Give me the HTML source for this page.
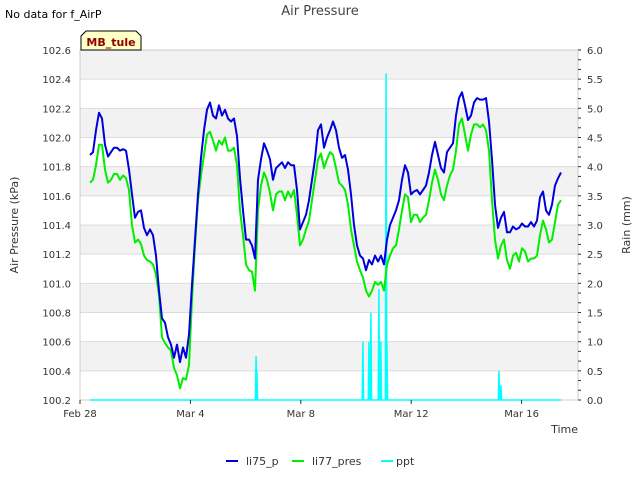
<!DOCTYPE html>
<html><head><meta charset="utf-8"><style>
body{margin:0;background:#fff;font-family:"Liberation Sans","DejaVu Sans",sans-serif}
svg text{font-family:"DejaVu Sans","Liberation Sans",sans-serif}
</style></head><body>
<svg id="chart" width="640" height="480" xmlns="http://www.w3.org/2000/svg">
<text x="5" y="18" font-size="11" fill="#000">No data for f_AirP</text>
<text x="320" y="15" font-size="13" fill="#444" text-anchor="middle">Air Pressure</text>
<g id="bands"></g>
<g id="grid"></g>
<rect x="80" y="50" width="498" height="350" fill="none" stroke="#ccc"/>
<g id="series"></g>
<g id="axes"></g>
<text transform="translate(18,225) rotate(-90)" font-size="11" fill="#333" text-anchor="middle">Air Pressure (kPa)</text>
<text transform="translate(630,225) rotate(-90)" font-size="11" fill="#333" text-anchor="middle">Rain (mm)</text>
<text x="578" y="433" font-size="11" fill="#333" text-anchor="end">Time</text>
<g>
<path d="M81,50 L81,36 L86,31 L136,31 L141,36 L141,50 Z" fill="#ffffc8" stroke="#000" stroke-width="1"/>
<text x="111" y="46" font-size="11" font-weight="bold" fill="#8b0000" text-anchor="middle">MB_tule</text>
</g>
<g>
<line x1="226" y1="461" x2="238" y2="461" stroke="#0000dd" stroke-width="2"/>
<text x="246" y="465" font-size="11" fill="#333">li75_p</text>
<line x1="292" y1="461" x2="304" y2="461" stroke="#00ee00" stroke-width="2"/>
<text x="312" y="465" font-size="11" fill="#333">li77_pres</text>
<line x1="381" y1="461" x2="393" y2="461" stroke="#00ffff" stroke-width="2"/>
<text x="396" y="465" font-size="11" fill="#333">ppt</text>
</g>
</svg>
<script>
const xTickLabels=["Feb 28","Mar 4","Mar 8","Mar 12","Mar 16"];
const xTickDays=[0,4,8,12,16];
const yTickLabels=["100.2","100.4","100.6","100.8","101.0","101.2","101.4","101.6","101.8","102.0","102.2","102.4","102.6"];
const y2TickLabels=["0.0","0.5","1.0","1.5","2.0","2.5","3.0","3.5","4.0","4.5","5.0","5.5","6.0"];
const startDay=0.362;
const stepDay=0.1087;
const li75=[101.88,101.90,102.05,102.17,102.13,101.95,101.87,101.90,101.93,101.93,101.91,101.92,101.91,101.78,101.61,101.45,101.49,101.50,101.38,101.33,101.37,101.33,101.19,100.95,100.76,100.73,100.63,100.58,100.49,100.58,100.46,100.56,100.49,100.65,100.99,101.30,101.61,101.86,102.05,102.19,102.24,102.15,102.13,102.22,102.15,102.19,102.13,102.11,102.13,102.01,101.72,101.50,101.30,101.30,101.26,101.17,101.71,101.85,101.96,101.91,101.85,101.71,101.79,101.81,101.83,101.79,101.83,101.81,101.81,101.64,101.37,101.42,101.47,101.57,101.71,101.85,102.05,102.09,101.93,102.00,102.05,102.11,102.05,101.93,101.86,101.88,101.78,101.61,101.40,101.26,101.19,101.17,101.09,101.16,101.13,101.19,101.15,101.19,101.13,101.30,101.40,101.45,101.50,101.57,101.71,101.81,101.76,101.61,101.63,101.64,101.61,101.64,101.67,101.76,101.88,101.97,101.88,101.79,101.76,101.90,101.93,101.96,102.15,102.27,102.31,102.22,102.12,102.15,102.24,102.27,102.26,102.26,102.27,102.11,101.85,101.54,101.38,101.45,101.49,101.35,101.35,101.39,101.37,101.38,101.41,101.39,101.39,101.42,101.39,101.43,101.59,101.63,101.50,101.47,101.54,101.67,101.72,101.76];
const li77=[101.69,101.71,101.81,101.95,101.95,101.78,101.69,101.71,101.75,101.75,101.71,101.74,101.72,101.64,101.40,101.28,101.30,101.27,101.19,101.16,101.15,101.13,101.06,100.92,100.63,100.59,100.56,100.54,100.42,100.37,100.28,100.35,100.34,100.44,100.89,101.26,101.57,101.74,101.88,102.02,102.04,101.98,101.91,101.98,101.95,102.00,101.91,101.91,101.93,101.81,101.50,101.33,101.13,101.09,101.08,100.95,101.50,101.67,101.76,101.71,101.62,101.50,101.61,101.63,101.63,101.57,101.63,101.59,101.64,101.47,101.26,101.30,101.37,101.43,101.57,101.71,101.85,101.89,101.79,101.85,101.90,101.88,101.79,101.69,101.67,101.64,101.54,101.37,101.26,101.15,101.09,101.04,100.95,100.91,100.95,101.01,100.99,101.01,100.95,101.13,101.19,101.24,101.26,101.37,101.50,101.61,101.59,101.42,101.47,101.47,101.42,101.45,101.47,101.57,101.69,101.78,101.71,101.61,101.57,101.67,101.74,101.78,101.91,102.09,102.13,102.02,101.91,102.02,102.09,102.09,102.07,102.09,102.05,101.91,101.57,101.30,101.17,101.26,101.30,101.16,101.10,101.19,101.21,101.15,101.24,101.22,101.15,101.17,101.17,101.19,101.33,101.43,101.37,101.28,101.30,101.42,101.54,101.57];
const pptDays=[6.38,6.41,10.25,10.47,10.54,10.83,10.90,11.09,11.12,15.18,15.25];
const pptValues=[0.75,0.5,1.0,1.0,1.5,1.9,1.0,5.6,1.0,0.5,0.25];

const NS="http://www.w3.org/2000/svg";
const X0=80,X1=578,Y0=400,Y1=50;
const xDay=d=>X0+d*27.6;
const yP=v=>Y0-(v-100.2)/(2.4)*(Y0-Y1);
const yR=v=>Y0-v/6*(Y0-Y1);
function mk(tag,attrs,parent){const e=document.createElementNS(NS,tag);for(const k in attrs)e.setAttribute(k,attrs[k]);parent.appendChild(e);return e;}
const bands=document.getElementById('bands'),grid=document.getElementById('grid'),axes=document.getElementById('axes'),series=document.getElementById('series');
yTickLabels.forEach((lab,i)=>{
  const v=parseFloat(lab);const y=yP(v);
  if(i<yTickLabels.length-1 && (yTickLabels.length-2-i)%2===0){
    const r=mk('rect',{x:X0,y:yP(parseFloat(yTickLabels[i+1])),width:X1-X0,height:y-yP(parseFloat(yTickLabels[i+1])),fill:'#f2f2f2'},bands);
    
    
  }
  const l=mk('line',{x1:X0,x2:X1,y1:y,y2:y,stroke:'#dcdcdc'},grid);
  
  
  const t=mk('text',{x:71,y:y+4,'font-size':10,fill:'#333','text-anchor':'end'},axes);
  t.textContent=lab;
  
  
});
y2TickLabels.forEach(lab=>{
  const y=yR(parseFloat(lab));
  const t=mk('text',{x:587,y:y+4,'font-size':10,fill:'#333'},axes);
  t.textContent=lab;
  
  
});
for(let k=0;k<=36;k++){const y=yR(k/6);mk('line',{x1:X1,x2:X1+3,y1:y,y2:y,stroke:'#333'},axes);}
xTickDays.forEach((d,i)=>{
  const x=xDay(d);
  mk('line',{x1:x,x2:x,y1:Y0,y2:Y0+4,stroke:'#333'},axes);
  const t=mk('text',{x:x,y:417,'font-size':10,fill:'#333','text-anchor':'middle'},axes);
  t.textContent=xTickLabels[i];
  
  
});
// ppt
let pp=`${xDay(startDay)},${yR(0)}`;
pptDays.forEach((d,i)=>{pp+=` ${xDay(d)-0.7},${yR(0)} ${xDay(d)},${yR(pptValues[i])} ${xDay(d)+0.7},${yR(0)}`;});
pp+=` ${xDay(startDay+stepDay*(li75.length-1))},${yR(0)}`;
const pl=mk('polyline',{points:pp,fill:'none',stroke:'#00ffff','stroke-width':1.5},series);


function line(arr,color,name){
  const pts=arr.map((v,i)=>`${xDay(startDay+stepDay*i).toFixed(1)},${yP(v).toFixed(1)}`).join(' ');
  const p=mk('polyline',{points:pts,fill:'none',stroke:color,'stroke-width':2,'stroke-linejoin':'round'},series);
  
  
}
line(li77,'#00ee00','li77-pres-series');
line(li75,'#0000dd','li75-p-series');
</script>
</body></html>
